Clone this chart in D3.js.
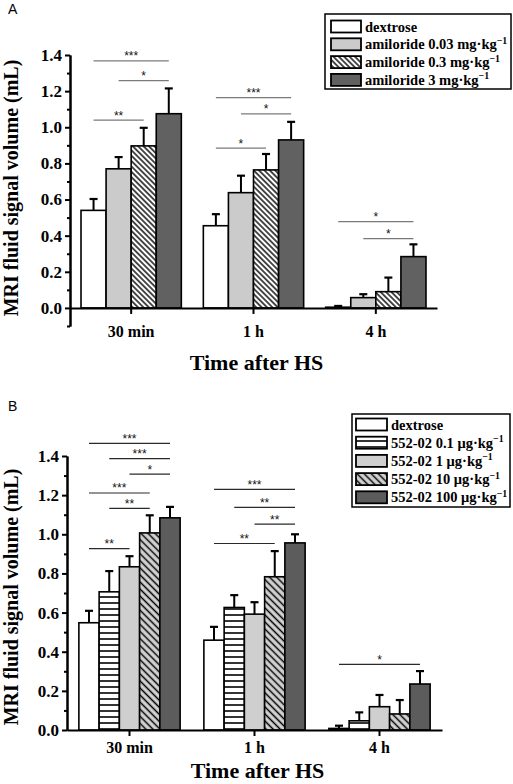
<!DOCTYPE html>
<html><head><meta charset="utf-8">
<script src="https://cdn.jsdelivr.net/npm/d3@7"></script>
<style>body{margin:0;background:#fff}svg{display:block}</style>
</head><body>
<svg id="c" width="513" height="784"></svg>
<script>
// ---------- data ----------
const categories = ["30 min", "1 h", "4 h"];
const yMajor = [0, 0.2, 0.4, 0.6, 0.8, 1.0, 1.2, 1.4];
const yMinorA = [-0.1, 0.1, 0.3, 0.5, 0.7, 0.9, 1.1, 1.3];
const yMinorB = [0.1, 0.3, 0.5, 0.7, 0.9, 1.1, 1.3];

// Panel A
const seriesA = ["dextrose", "amiloride 0.03 mg·kg^−1", "amiloride 0.3 mg·kg^−1", "amiloride 3 mg·kg^−1"];
const aDextrose = [0.54, 0.455, 0.004];
const aDextroseErr = [0.063, 0.064, 0.007];
const aAmi003 = [0.77, 0.638, 0.057];
const aAmi003Err = [0.065, 0.094, 0.019];
const aAmi03 = [0.897, 0.764, 0.09];
const aAmi03Err = [0.10, 0.088, 0.078];
const aAmi3 = [1.075, 0.93, 0.284];
const aAmi3Err = [0.14, 0.10, 0.068];
// significance: [category index, from series, to series, level (mL), label]
const sigA = [
  [0, 0, 3, 1.367, "***"], [0, 1, 3, 1.258, "*"], [0, 0, 2, 1.04, "**"],
  [1, 0, 3, 1.164, "***"], [1, 1, 3, 1.074, "*"], [1, 0, 2, 0.884, "*"],
  [2, 0, 3, 0.478, "*"], [2, 1, 3, 0.384, "*"]
];

// Panel B
const seriesB = ["dextrose", "552-02 0.1 μg·kg^−1", "552-02 1 μg·kg^−1", "552-02 10 μg·kg^−1", "552-02 100 μg·kg^−1"];
const bDextrose = [0.548, 0.459, 0.008];
const bDextroseErr = [0.061, 0.068, 0.014];
const b01 = [0.706, 0.626, 0.047];
const b01Err = [0.106, 0.063, 0.043];
const b1 = [0.834, 0.592, 0.119];
const b1Err = [0.054, 0.061, 0.06];
const b10 = [1.007, 0.783, 0.082];
const b10Err = [0.09, 0.131, 0.071];
const b100 = [1.084, 0.956, 0.235];
const b100Err = [0.056, 0.044, 0.066];
const sigB = [
  [0, 0, 4, 1.464, "***"], [0, 1, 4, 1.387, "***"], [0, 2, 4, 1.307, "*"],
  [0, 0, 3, 1.211, "***"], [0, 1, 3, 1.132, "**"], [0, 0, 2, 0.927, "**"],
  [1, 0, 4, 1.229, "***"], [1, 1, 4, 1.137, "**"], [1, 2, 4, 1.052, "**"], [1, 0, 3, 0.953, "**"],
  [2, 0, 4, 0.335, "*"]
];

// ---------- drawing ----------
const svg = d3.select("#c");
const SERIF = "'Liberation Serif','Times New Roman',serif";
const SANS = "'Liberation Sans',Arial,sans-serif";
const defs = svg.append("defs");

function hatch(id, bg, spacing, sw) {
  const p = defs.append("pattern").attr("id", id).attr("patternUnits", "userSpaceOnUse")
    .attr("width", spacing).attr("height", spacing).attr("patternTransform", "rotate(-45)");
  p.append("rect").attr("width", spacing).attr("height", spacing).attr("fill", bg);
  p.append("line").attr("x1", spacing / 2).attr("x2", spacing / 2).attr("y1", 0).attr("y2", spacing)
    .attr("stroke", "#000").attr("stroke-width", sw);
}
function hlines(id, spacing, sw) {
  const p = defs.append("pattern").attr("id", id).attr("patternUnits", "userSpaceOnUse")
    .attr("width", 10).attr("height", spacing);
  p.append("rect").attr("width", 10).attr("height", spacing).attr("fill", "#fff");
  p.append("line").attr("x1", 0).attr("x2", 10).attr("y1", spacing / 2).attr("y2", spacing / 2)
    .attr("stroke", "#000").attr("stroke-width", sw);
}
hatch("hatchA", "#fff", 3.8, 1.4);
hatch("hatchB", "#d4d4d4", 5, 1.5);
hlines("hlineB", 6, 1.6);

function addLabel(sel, str) {
  const parts = str.split("^");
  sel.append("tspan").text(parts[0]);
  if (parts[1]) sel.append("tspan").attr("font-size", "0.68em").attr("dy", "-0.55em").text(parts[1]);
}

function panel(o) {
  const g = svg.append("g");
  const x = d3.scaleBand().domain(categories).range([o.left, o.right]).padding(0);
  const gw = x.bandwidth() * o.groupFrac;
  const inner = d3.scaleBand().domain(d3.range(o.series.length)).range([0, gw]).padding(0);
  const off = (x.bandwidth() - gw) / 2;
  const y = d3.scaleLinear().domain(o.yDomain).range([o.bottom, o.top]);
  const bx = (ci, si) => x(categories[ci]) + off + inner(si);

  // bars
  o.values.forEach((vals, si) => {
    vals.forEach((v, ci) => {
      g.append("rect").attr("x", bx(ci, si)).attr("width", inner.bandwidth())
        .attr("y", y(v)).attr("height", y(0) - y(v))
        .attr("fill", o.fills[si]).attr("stroke", "#000").attr("stroke-width", 1.6);
    });
  });
  // error bars
  o.values.forEach((vals, si) => {
    vals.forEach((v, ci) => {
      const cx = bx(ci, si) + inner.bandwidth() / 2;
      const e = o.errs[si][ci];
      g.append("line").attr("x1", cx).attr("x2", cx).attr("y1", y(v)).attr("y2", y(v + e))
        .attr("stroke", "#000").attr("stroke-width", 2);
      g.append("line").attr("x1", cx - 4).attr("x2", cx + 4).attr("y1", y(v + e)).attr("y2", y(v + e))
        .attr("stroke", "#000").attr("stroke-width", 2.2);
    });
  });
  // significance lines
  o.sig.forEach(([ci, a, b, lv, lab]) => {
    const x1 = bx(ci, a) + inner.bandwidth() / 2, x2 = bx(ci, b) + inner.bandwidth() / 2;
    g.append("line").attr("x1", x1).attr("x2", x2).attr("y1", y(lv)).attr("y2", y(lv))
      .attr("stroke", o.sigColor).attr("stroke-width", 1.2);
    g.append("text").attr("x", (x1 + x2) / 2).attr("y", y(lv) - 0.5).attr("text-anchor", "middle")
      .attr("font-family", SANS).attr("font-size", 12).attr("fill", "#111").text(lab);
  });

  // y axis
  const ya = g.append("g").attr("transform", `translate(${o.left},0)`)
    .call(d3.axisLeft(y).tickValues(yMajor).tickFormat(d3.format(".1f")).tickSize(5).tickSizeOuter(0).tickPadding(3));
  const ym = g.append("g").attr("transform", `translate(${o.left},0)`)
    .call(d3.axisLeft(y).tickValues(o.minor).tickFormat("").tickSize(3).tickSizeOuter(0));
  [ya, ym].forEach(a => {
    a.selectAll("path,line").attr("stroke", "#000").attr("stroke-width", 2);
  });
  ya.selectAll("text").attr("font-family", SERIF).attr("font-weight", "bold").attr("font-size", 17).attr("fill", "#000");

  // x axis
  const xa = g.append("g").attr("transform", `translate(0,${y(0)})`)
    .call(d3.axisBottom(x).tickSize(6).tickSizeOuter(0).tickPadding(o.xPad));
  xa.selectAll("path,line").attr("stroke", "#000").attr("stroke-width", 2);
  xa.selectAll("text").attr("font-family", SERIF).attr("font-weight", "bold").attr("font-size", 16).attr("fill", "#000");

  // titles
  g.append("text").attr("transform", `translate(17.5,${o.yTitleY}) rotate(-90)`).attr("text-anchor", "middle")
    .attr("font-family", SERIF).attr("font-weight", "bold").attr("font-size", 20).text("MRI fluid signal volume (mL)");
  g.append("text").attr("x", (o.left + o.right) / 2 + 3).attr("y", o.xTitleY).attr("text-anchor", "middle")
    .attr("font-family", SERIF).attr("font-weight", "bold").attr("font-size", 22).text("Time after HS");
  g.append("text").attr("x", 8).attr("y", o.letterY).attr("font-family", SANS).attr("font-size", 14).text(o.letter);

  // legend
  const L = o.legend;
  g.append("rect").attr("x", L.x).attr("y", L.y).attr("width", L.w).attr("height", L.h)
    .attr("fill", "#fff").attr("stroke", "#000").attr("stroke-width", 1.5);
  o.series.forEach((s, i) => {
    const cy = L.y + L.first + i * L.step;
    g.append("rect").attr("x", L.sx).attr("y", cy - 6).attr("width", L.sw).attr("height", 12)
      .attr("fill", o.fills[i]).attr("stroke", "#000").attr("stroke-width", 1.8);
    const t = g.append("text").attr("x", L.sx + L.sw + 4).attr("y", cy + 5)
      .attr("font-family", SERIF).attr("font-weight", "bold").attr("font-size", 14.5);
    addLabel(t, s);
  });
}

panel({
  series: seriesA,
  values: [aDextrose, aAmi003, aAmi03, aAmi3],
  errs: [aDextroseErr, aAmi003Err, aAmi03Err, aAmi3Err],
  fills: ["#fff", "#cbcbcb", "url(#hatchA)", "#616161"],
  sig: sigA, sigColor: "#7a7a7a",
  left: 70, right: 437, top: 55, bottom: 326, yDomain: [-0.1, 1.4], minor: yMinorA,
  groupFrac: 0.82, xPad: 12, yTitleY: 188, xTitleY: 370, letter: "A", letterY: 13.5,
  legend: { x: 325, y: 14, w: 186, h: 75, first: 12.5, step: 17.8, sx: 331, sw: 30 }
});

panel({
  series: seriesB,
  values: [bDextrose, b01, b1, b10, b100],
  errs: [bDextroseErr, b01Err, b1Err, b10Err, b100Err],
  fills: ["#fff", "url(#hlineB)", "#cfcfcf", "url(#hatchB)", "#5c5c5c"],
  sig: sigB, sigColor: "#2a2a2a",
  left: 67, right: 442, top: 456, bottom: 730, yDomain: [0, 1.4], minor: yMinorB,
  groupFrac: 0.81, xPad: 6, yTitleY: 597, xTitleY: 778, letter: "B", letterY: 411,
  legend: { x: 352, y: 414, w: 158, h: 93, first: 10.5, step: 18.2, sx: 356, sw: 31 }
});
</script>
</body></html>
